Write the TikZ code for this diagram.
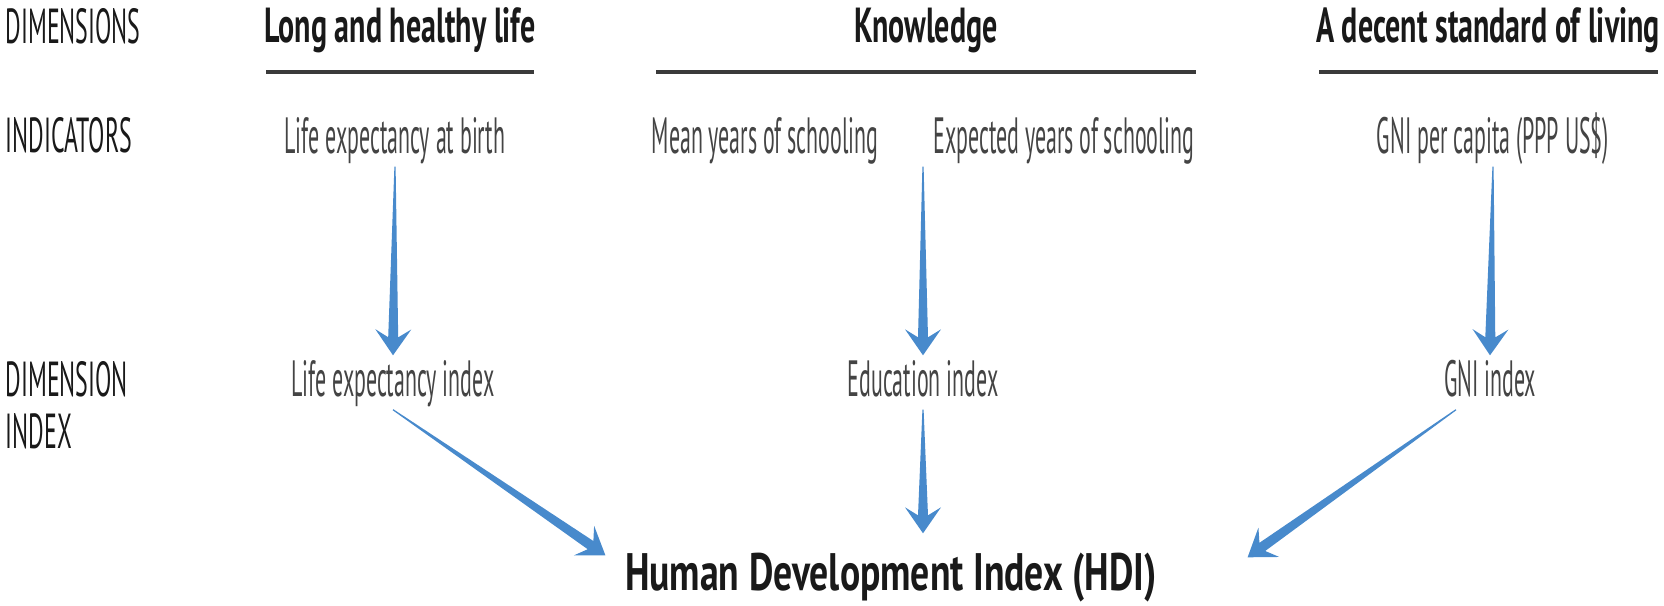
\documentclass[tikz,border=0pt]{standalone}
\usepackage{fontspec}
\setmainfont{PT Sans}[FakeStretch=0.43]
\newfontfamily\lblfont{PT Sans}[FakeStretch=0.485]
\newfontfamily\headfont{PT Sans}[FakeStretch=0.61]
\newfontfamily\hdifont{PT Sans}[FakeStretch=0.715]
\usetikzlibrary{calc}

\definecolor{arrowblue}{RGB}{72,138,204}
\definecolor{txtgray}{RGB}{68,68,68}
\definecolor{rulegray}{RGB}{58,58,58}
\definecolor{headblack}{RGB}{25,25,25}

\newcommand{\hdiarrow}[2]{%
  \coordinate (ah1) at ($(#2)!1.8mm!(#1)$);
  \coordinate (ah2) at ($(#2)!2.6mm!(#1)$);
  \fill[arrowblue] ($(#1)!0.06mm!90:(#2)$) -- ($(ah1)!0.5mm!-90:(#1)$)
    -- ($(ah2)!1.8mm!-90:(#1)$) -- (#2) -- ($(ah2)!1.8mm!90:(#1)$)
    -- ($(ah1)!0.5mm!90:(#1)$) -- ($(#1)!0.06mm!-90:(#2)$) -- cycle;
}

\begin{document}
\begin{tikzpicture}[x=0.1mm, y=-0.1mm,
    lbl/.style={inner sep=0pt, text=headblack, font=\lblfont\fontsize{14}{14.8}\selectfont},
    dimhead/.style={anchor=base, inner sep=0pt, text=headblack, font=\headfont\fontsize{14}{16}\selectfont\bfseries},
    indtext/.style={anchor=base, text=txtgray, font=\fontsize{14.5}{16}\selectfont, text height=3.6mm, text depth=0.9mm, inner sep=0.4mm},
    dimrule/.style={rulegray, line width=0.35mm}]
  \useasboundingbox (0,0) rectangle (1664,605);

  \node[lbl, anchor=base west] (ldim) at (5,43) {DIMENSIONS};
  \node[lbl, anchor=base west] (lind) at (5,152) {INDICATORS};
  \node[lbl, anchor=north west, align=left] (ldimidx) at (5,361) {DIMENSION\\INDEX};

  \node[dimhead] (hlife) at (400,42) {Long and healthy life};
  \node[dimhead] (hknow) at (926,42) {Knowledge};
  \node[dimhead] (hliving) at (1488,42) {A decent standard of living};
  \draw[dimrule] (266,72) -- (534,72);
  \draw[dimrule] (656,72) -- (1196,72);
  \draw[dimrule] (1319,72) -- (1658,72);

  \node[indtext] (lifebirth) at (395,153) {Life expectancy at birth};
  \node[indtext] (meanyrs) at (765,153) {Mean years of schooling};
  \node[indtext] (expyrs) at (1064,153) {Expected years of schooling};
  \node[indtext] (gnipc) at (1493,153) {GNI per capita (PPP US\$)};

  \node[indtext] (lifeidx) at (393,396) {Life expectancy index};
  \node[indtext] (eduidx) at (923,396) {Education index};
  \node[indtext] (gniidx) at (1490,396) {GNI index};

  \node[indtext, text=headblack, font=\hdifont\fontsize{15}{17}\selectfont\bfseries] (hdi) at (891,590) {Human Development Index (HDI)};

  \coordinate (knowtop) at (eduidx.north |- meanyrs.south);
  \coordinate (gnifoot) at ($(gniidx.south)+(-34,0)$);
  \coordinate (hdiL) at ($(hdi.north west)+(-15,6)$);
  \coordinate (hdiT) at ($(eduidx.south |- hdi.north)+(0,-16)$);
  \coordinate (hdiR) at ($(hdi.north east)+(86,8)$);

  \hdiarrow{lifebirth.south}{lifeidx.north}
  \hdiarrow{knowtop}{eduidx.north}
  \hdiarrow{gnipc.south}{gniidx.north}
  \hdiarrow{lifeidx.south}{hdiL}
  \hdiarrow{eduidx.south}{hdiT}
  \hdiarrow{gnifoot}{hdiR}
\end{tikzpicture}
\end{document}
